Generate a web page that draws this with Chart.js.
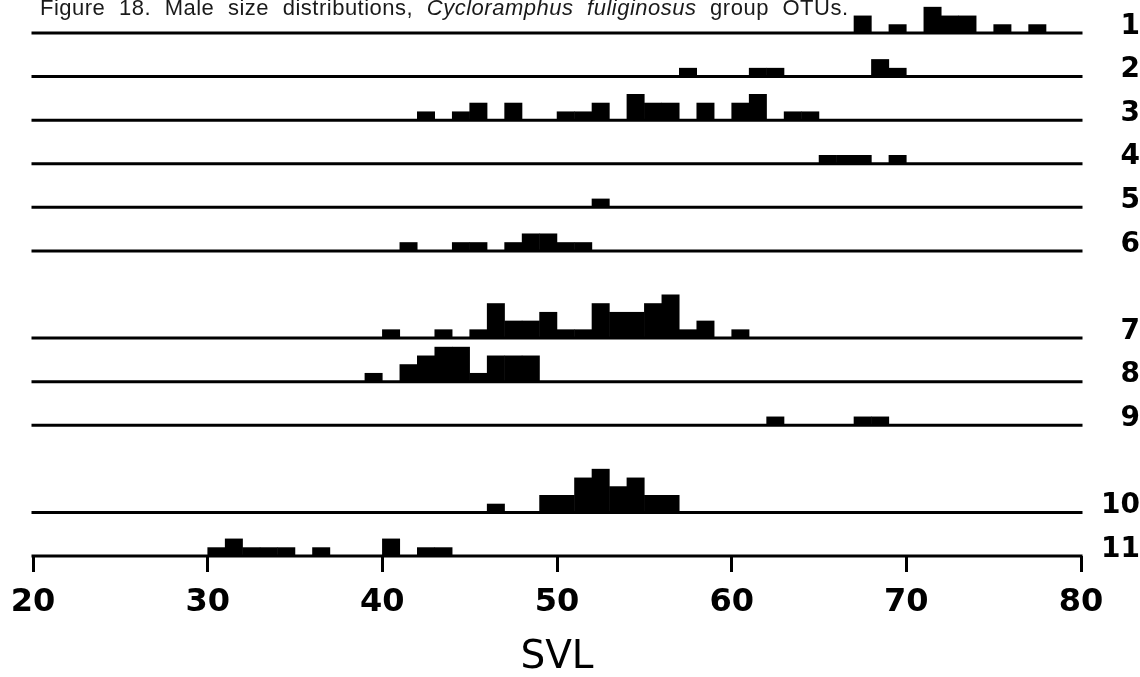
<!DOCTYPE html>
<html>
<head>
<meta charset="utf-8">
<script src="https://cdn.jsdelivr.net/npm/chart.js@4.4.1/dist/chart.umd.min.js"></script>
<style>
  html, body { margin: 0; padding: 0; background: #fff; }
  #wrap { width: 1140px; height: 677px; position: relative; }
</style>
</head>
<body>
<div id="wrap"><canvas id="myChart"></canvas></div>
<script>
// SVL bins (1 mm, left edge) and number of males per bin, one pair per OTU
var otu1Svl = [67, 69, 71, 72, 73, 75, 77];
var otu1N   = [2, 1, 3, 2, 2, 1, 1];
var otu2Svl = [57, 61, 62, 68, 69];
var otu2N   = [1, 1, 1, 2, 1];
var otu3Svl = [42, 44, 45, 47, 50, 51, 52, 54, 55, 56, 58, 60, 61, 63, 64];
var otu3N   = [1, 1, 2, 2, 1, 1, 2, 3, 2, 2, 2, 2, 3, 1, 1];
var otu4Svl = [65, 66, 67, 69];
var otu4N   = [1, 1, 1, 1];
var otu5Svl = [52];
var otu5N   = [1];
var otu6Svl = [41, 44, 45, 47, 48, 49, 50, 51];
var otu6N   = [1, 1, 1, 1, 2, 2, 1, 1];
var otu7Svl = [40, 43, 45, 46, 47, 48, 49, 50, 51, 52, 53, 54, 55, 56, 57, 58, 60];
var otu7N   = [1, 1, 1, 4, 2, 2, 3, 1, 1, 4, 3, 3, 4, 5, 1, 2, 1];
var otu8Svl = [39, 41, 42, 43, 44, 45, 46, 47, 48];
var otu8N   = [1, 2, 3, 4, 4, 1, 3, 3, 3];
var otu9Svl = [62, 67, 68];
var otu9N   = [1, 1, 1];
var otu10Svl = [46, 49, 50, 51, 52, 53, 54, 55, 56];
var otu10N   = [1, 2, 2, 4, 5, 3, 4, 2, 2];
var otu11Svl = [30, 31, 32, 33, 34, 36, 40, 42, 43];
var otu11N   = [1, 2, 1, 1, 1, 1, 2, 1, 1];

var otuNames = ['1', '2', '3', '4', '5', '6', '7', '8', '9', '10', '11'];
var svlTicks = [20, 30, 40, 50, 60, 70, 80];

var titleParts = [
  {text: 'Figure 18. Male size distributions, ', italic: false},
  {text: 'Cycloramphus fuliginosus', italic: true},
  {text: ' group OTUs.', italic: false}
];

// layout: which vertical slot each OTU row sits in (blank slots after 6 and 9)
var rowSlot = [0, 1, 2, 3, 4, 5, 7, 8, 9, 11, 12];
var slotUnits = 5;
var yTop = 63.44;

var otuSvl = [otu1Svl, otu2Svl, otu3Svl, otu4Svl, otu5Svl, otu6Svl, otu7Svl, otu8Svl, otu9Svl, otu10Svl, otu11Svl];
var otuN = [otu1N, otu2N, otu3N, otu4N, otu5N, otu6N, otu7N, otu8N, otu9N, otu10N, otu11N];

var svlMin = svlTicks[0], svlMax = svlTicks[svlTicks.length - 1];
var binLabels = [];
for (var v = svlMin; v < svlMax; v++) binLabels.push(String(v));

var rowBase = rowSlot.map(function (s) { return (12 - s) * slotUnits; });

var datasets = [];
otuSvl.forEach(function (bins, i) {
  datasets.push({
    type: 'line', xAxisID: 'x', yAxisID: 'y',
    data: [{x: svlMin, y: rowBase[i]}, {x: svlMax, y: rowBase[i]}],
    borderColor: '#000', borderWidth: 3, borderCapStyle: 'square',
    pointRadius: 0, clip: false
  });
  datasets.push({
    type: 'bar', xAxisID: 'xc', yAxisID: 'y',
    data: bins.map(function (b, j) { return {x: String(b), y: [rowBase[i], rowBase[i] + otuN[i][j]]}; }),
    backgroundColor: '#000', borderWidth: 0,
    barPercentage: 1.03, categoryPercentage: 1, grouped: false
  });
});

var figTitle = {
  id: 'figTitle',
  afterDraw: function (chart) {
    var ctx = chart.ctx;
    ctx.save();
    ctx.fillStyle = '#1a1a1a';
    ctx.textBaseline = 'alphabetic';
    ctx.textAlign = 'left';
    ctx.letterSpacing = '0.5px';
    ctx.wordSpacing = '7px';
    var x = 40;
    titleParts.forEach(function (p) {
      ctx.font = (p.italic ? 'italic ' : '') + '22px "Liberation Sans"';
      ctx.fillText(p.text, x, 15);
      x += ctx.measureText(p.text).width;
    });
    ctx.restore();
  }
};

function noPad(scale) {
  scale.paddingTop = 0;
  scale.paddingBottom = 0;
  scale.paddingLeft = 0;
  scale.paddingRight = 0;
}

var ctx = document.getElementById('myChart').getContext('2d');
var myChart = new Chart(ctx, {
  type: 'bar',
  data: { labels: binLabels, datasets: datasets },
  plugins: [figTitle],
  options: {
    responsive: true,
    maintainAspectRatio: false,
    animation: false,
    events: [],
    layout: { padding: { left: 33, top: 3, right: 0, bottom: 0 } },
    plugins: {
      legend: { display: false },
      tooltip: { enabled: false }
    },
    scales: {
      x: {
        type: 'linear', position: 'bottom', min: svlMin, max: svlMax, offset: false,
        afterBuildTicks: function (scale) { scale.ticks = svlTicks.map(function (t) { return {value: t}; }); },
        afterFit: function (scale) { scale.height = 121; noPad(scale); },
        grid: { display: true, offset: false, drawOnChartArea: false, drawTicks: true,
                tickLength: 16, tickWidth: 3, tickColor: '#000' },
        border: { display: false },
        ticks: { color: '#000', padding: 11, maxRotation: 0, autoSkip: false,
                 font: { family: 'DejaVu Sans', weight: 'bold', size: 32 } },
        title: { display: true, text: 'SVL', color: '#000',
                 font: { family: 'DejaVu Sans', size: 39, lineHeight: 1 },
                 padding: { top: 0, bottom: 0 } }
      },
      xc: { type: 'category', labels: binLabels, offset: true, display: false },
      y: { type: 'linear', min: 0, max: yTop, display: false },
      yr: {
        type: 'linear', position: 'right', min: 0, max: yTop,
        afterBuildTicks: function (scale) { scale.ticks = rowBase.map(function (b) { return {value: b + 0.75}; }); },
        afterFit: function (scale) { scale.width = 59; noPad(scale); },
        grid: { display: false }, border: { display: false },
        ticks: { autoSkip: false, crossAlign: 'far', padding: 18, color: '#000',
                 font: { family: 'DejaVu Sans', weight: 'bold', size: 28 },
                 callback: function (val, i) { return otuNames[i]; } }
      }
    }
  }
});
</script>
</body>
</html>
